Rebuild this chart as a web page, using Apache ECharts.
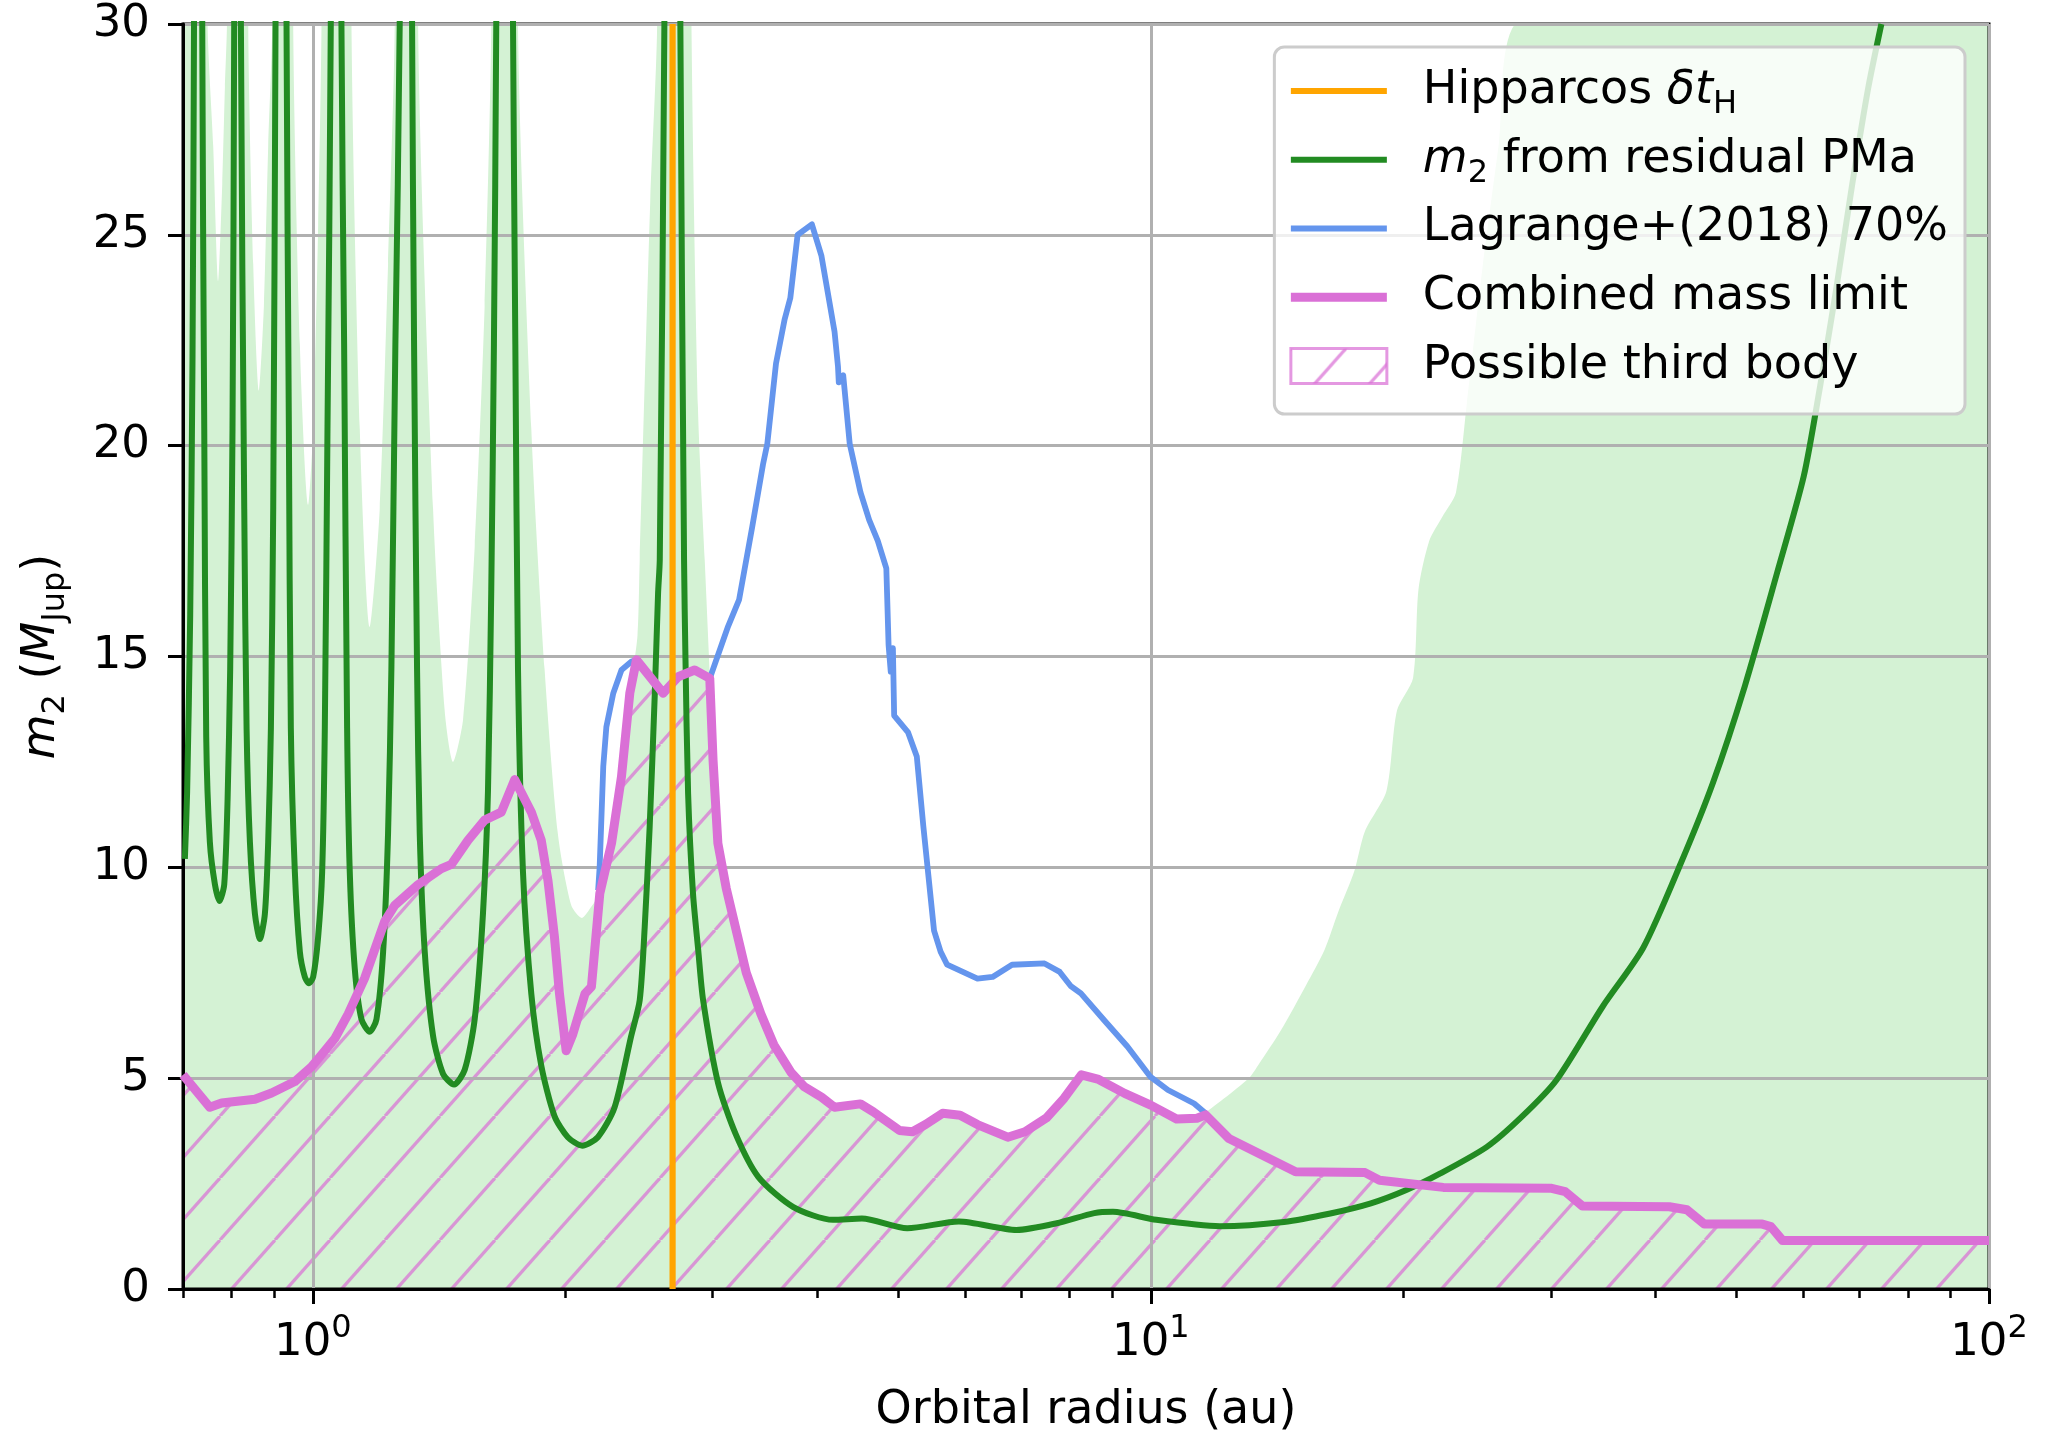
<!DOCTYPE html>
<html><head><meta charset="utf-8">
<script src="https://cdn.jsdelivr.net/npm/echarts@6/dist/echarts.min.js"></script>
<style>html,body{margin:0;padding:0;background:#fff}#c{width:2050px;height:1441px}</style>
</head><body><div id="c"></div>
<script>
// ---------------- data (orbital radius in au, mass in M_Jup) ----------------
const hipparcosAu = 2.687;
const xMin = 0.7, xMax = 100;
const xMajorTicks = [1, 10, 100];
const xMinorTicks = [0.7, 0.8, 0.9, 2, 3, 4, 5, 6, 7, 8, 9, 20, 30, 40, 50, 60, 70, 80, 90];

// m2 from residual PMa (green curve)
const pmaCurve = [
  [0.7036,10.2],[0.708,11.8],[0.714,16.0],[0.7185,22.0],[0.7215,30],[0.7345,80],
  [0.7380,30],[0.7421,20.4],[0.7461,13.1],[0.7536,10.6],[0.7641,9.6],[0.7740,9.2],[0.7840,9.6],[0.7912,11.6],[0.7969,14.7],[0.8020,20.4],[0.8057,30],[0.814,80],
  [0.8207,30],[0.8283,18.5],[0.8336,13.3],[0.8413,10.6],[0.8529,8.9],[0.8647,8.3],[0.8766,8.9],[0.8846,10.6],[0.8912,13.3],[0.8969,18.5],[0.9026,30],[0.919,80],
  [0.9303,30],[0.9363,20.4],[0.9414,13.3],[0.9518,9.9],[0.9650,8.0],[0.9783,7.4],[0.9891,7.25],[1.0009,7.4],[1.0147,8.35],[1.0260,9.9],[1.0335,13.3],[1.0411,20.4],[1.0506,30],[1.067,80],
  [1.0818,30],[1.0898,22.4],[1.0988,13.3],[1.1068,9.9],[1.1221,7.6],[1.1429,6.4],[1.1693,6.1],[1.1911,6.4],[1.2131,8.0],[1.2296,10.8],[1.2409,14.7],[1.2546,22.4],[1.2696,30],[1.292,80],
  [1.3135,30],[1.3207,22.4],[1.3316,14.7],[1.3414,10.8],[1.3600,8.0],[1.3915,6.0],[1.4303,5.1],[1.4740,4.85],[1.5179,5.2],[1.5601,6.4],[1.5959,8.9],[1.6180,11.8],[1.6328,16.6],[1.6447,22.4],[1.6553,30],[1.693,80],
  [1.7333,30],[1.7444,22.4],[1.7572,14.7],[1.7813,9.9],[1.8226,7.0],[1.8731,5.3],[1.9425,4.1],[2.0150,3.6],[2.0963,3.4],[2.188,3.6],[2.2906,4.3],[2.3981,6.0],[2.455,6.85],[2.489,8.59],[2.523,10.96],[2.559,14.13],[2.582,16.5],[2.594,17.29],[2.6271,30],[2.688,80],
  [2.745,30],[2.773,17.29],[2.784,14.92],[2.804,11.75],[2.842,9.38],[2.883,8.04],[2.922,6.85],[3.045,4.88],[3.193,3.69],[3.40,2.66],[3.74,1.95],[4.175,1.64],[4.52,1.67],[5.12,1.44],[5.90,1.6],[6.91,1.4],[7.72,1.56],[8.56,1.8],[9.01,1.83],[10.15,1.64],[12.09,1.49],[14.41,1.59],[16.37,1.79],[18.30,2.03],[20.14,2.34],[22.15,2.74],[25.17,3.37],[27.69,4.08],[30.46,4.95],[34.6,6.7],[38.69,8.1],[42.87,10.09],[46.83,12.0],[51.13,14.3],[55.86,16.98],[60.12,19.28],[62.84,21.38],[65.68,23.68],[68.64,26.17],[71.74,28.47],[74.4,30]
];

// upper edge of the PMa uncertainty band (light green fill)
const pmaUpper = [
  [0.7,80],[0.7489,30],[0.7606,27.1],[0.7712,23.9],[0.7797,26.2],[0.7854,28.5],[0.7898,30],[0.814,80],
  [0.8374,30],[0.8490,24.3],[0.8623,21.3],[0.8742,23.3],[0.8846,27.1],[0.8944,30],[0.919,80],
  [0.9475,30],[0.9650,22.4],[0.9873,18.6],[1.0009,20.4],[1.0147,25.2],[1.0241,30],[1.067,80],
  [1.1120,30],[1.1377,20.4],[1.1693,15.7],[1.2018,18.5],[1.2296,24.3],[1.2523,30],[1.292,80],
  [1.3354,30],[1.3915,18.5],[1.4368,13.7],[1.4700,12.5],[1.5109,13.5],[1.5601,17.6],[1.6032,23.3],[1.6328,30],[1.693,80],
  [1.7572,30],[1.8226,20.4],[1.8904,14.7],[1.9604,10.8],[2.0340,9.1],[2.0944,8.8],[2.150,9.07],[2.200,9.4],[2.272,10.5],[2.335,12.1],[2.389,14.1],[2.44,15.5],[2.455,17.29],[2.527,25.8],[2.5754,30],[2.688,80],
  [2.830,30],[2.881,20.9],[2.935,17.29],[2.976,14.6],[3.003,12.6],[3.043,10.6],[3.114,9.6],[3.29,7.6],[3.424,6.6],[3.549,5.85],[3.722,5.2],[3.857,4.85],[4.045,4.6],[4.193,4.36],[4.502,4.44],[4.665,4.25],[5.011,3.8],[5.194,3.78],[5.383,3.95],[5.644,4.22],[5.920,4.17],[6.209,3.95],[6.748,3.65],[7.076,3.78],[7.509,4.1],[7.875,4.57],[8.26,5.12],[8.662,5.02],[9.304,4.69],[9.994,4.4],[10.73,4.08],[11.35,4.1],[11.59,4.17],
  [13.09,5.0],[13.42,5.3],[14.30,6.14],[15.32,7.21],[16.11,8.04],[16.73,8.94],[17.48,9.9],[18.0,10.85],[19.1,11.81],[19.66,13.72],[20.55,14.49],[20.86,16.6],[21.48,17.74],[22.28,18.32],[23.12,18.89],[23.82,21.0],[24.88,24.25],[26.0,27.13],[27.18,30],[100,40]
];

// Lagrange+(2018) 70% detection limit (blue)
const lagrange = [
  [2.190,9.46],[2.199,10.0],[2.221,12.39],[2.240,13.33],[2.283,14.13],[2.335,14.68],[2.400,14.88],[2.433,14.92],[2.618,14.13],[2.729,14.52],[2.855,14.68],[2.976,14.48],
  [2.989,14.48],[3.129,15.71],[3.226,16.35],[3.344,18.07],[3.445,19.56],[3.486,20.05],[3.570,21.95],[3.656,23.0],[3.713,23.5],[3.788,25.0],[3.940,25.25],[4.045,24.5],[4.193,22.7],[4.233,21.87],[4.242,21.5],[4.294,21.67],[4.371,20.05],[4.502,18.9],[4.611,18.24],[4.722,17.74],[4.834,17.09],[4.864,15.27],[4.893,14.64],[4.922,15.2],[4.939,13.6],[5.132,13.2],[5.256,12.63],[5.351,10.98],[5.511,8.5],[5.611,8.0],[5.713,7.69],[6.209,7.36],[6.473,7.4],[6.828,7.69],[7.465,7.72],[7.784,7.52],[8.018,7.19],[8.25,7.01],[8.79,6.38],[9.374,5.75],[9.99,5.03],[10.48,4.72],[11.26,4.40],[11.62,4.17]
];

// Combined mass limit (orchid)
const combined = [
  [0.7,5.08],[0.7536,4.31],[0.7783,4.41],[0.8529,4.5],[0.8928,4.65],[0.9518,4.92],[0.9963,5.27],[1.0335,5.65],[1.0622,5.94],[1.1018,6.52],[1.1534,7.38],[1.2184,8.72],[1.2523,9.1],[1.3354,9.59],[1.4237,9.97],[1.4633,10.07],[1.5314,10.64],[1.6032,11.12],[1.6785,11.31],[1.7412,12.08],[1.8226,11.31],[1.8731,10.64],[1.9081,9.68],[1.9425,8.34],[1.9693,7.0],[2.0057,5.65],[2.0427,6.04],[2.112,7.0],[2.150,7.17],[2.200,9.38],[2.272,10.57],[2.335,12.15],[2.389,14.13],[2.433,14.92],[2.618,14.13],[2.729,14.52],[2.855,14.68],[2.976,14.48],
  [3.003,12.54],[3.043,10.57],[3.114,9.5],[3.29,7.5],[3.424,6.53],[3.549,5.79],[3.722,5.13],[3.857,4.8],[4.045,4.55],[4.193,4.31],[4.502,4.39],[4.665,4.2],[5.011,3.76],[5.194,3.73],[5.383,3.9],[5.644,4.17],[5.920,4.12],[6.209,3.9],[6.748,3.6],[7.076,3.73],[7.509,4.06],[7.875,4.52],[8.26,5.08],[8.662,4.97],[9.304,4.64],[9.994,4.36],[10.73,4.03],[11.35,4.05],[11.62,4.13],[12.39,3.57],[14.88,2.78],[18.01,2.76],[18.74,2.58],[22.33,2.41],[29.99,2.39],[31.21,2.31],[32.72,1.97],[41.56,1.95],[43.60,1.88],[45.73,1.54],[53.63,1.54],[54.92,1.48],[56.71,1.15],[100,1.15]
];

const legendNames = ['Hipparcos δtH', 'm2 from residual PMa', 'Lagrange+(2018) 70%', 'Combined mass limit', 'Possible third body'];

// ---------------- build ----------------
const FONT = 'DejaVu Sans';
const L = v => Math.log10(v);
const toXY = arr => arr.map(p => [L(p[0]), p[1]]);

function hatchCanvas(w, h, color, lw) {
  const c = document.createElement('canvas');
  c.width = w; c.height = h;
  const g = c.getContext('2d');
  g.strokeStyle = color; g.lineWidth = lw;
  for (let k = -1; k <= 1; k++) {
    g.beginPath(); g.moveTo(k * w, h); g.lineTo(k * w + w, 0); g.stroke();
  }
  return c;
}
const HATCH_COLOR = 'rgba(218,112,214,0.72)';
const hatchPattern = { image: hatchCanvas(55, 62, HATCH_COLOR, 3.2), repeat: 'repeat' };
const legendHatch = { image: hatchCanvas(55, 62, HATCH_COLOR, 3.2), repeat: 'repeat' };

const GREEN = '#228b22', BLUE = '#6495ed', PINK = '#da70d6', ORANGE = '#ffa500';
const W_GREEN = 6, W_BLUE = 5.8, W_PINK = 9, W_ORANGE = 6.2;
const barIcon = h => 'path://M0,0H96V' + h + 'H0Z';

const legendRich = {
  g: { width: 31 },
  t: { fontSize: 46, fontFamily: FONT, color: '#000', lineHeight: 60 },
  i: { fontSize: 46, fontFamily: FONT, fontStyle: 'italic', color: '#000', lineHeight: 60 },
  s: { fontSize: 32, fontFamily: FONT, color: '#000', lineHeight: 30, verticalAlign: 'bottom' }
};
const legendLabels = {
  'Hipparcos δtH': '{g|}{t|Hipparcos }{i|δt}{s|H}',
  'm2 from residual PMa': '{g|}{i|m}{s|2}{t| from residual PMa}',
  'Lagrange+(2018) 70%': '{g|}{t|Lagrange+(2018) 70%}',
  'Combined mass limit': '{g|}{t|Combined mass limit}',
  'Possible third body': '{g|}{t|Possible third body}'
};

const xL = L(xMin), xR = L(xMax);

const option = {
  animation: false,
  backgroundColor: '#fff',
  textStyle: { fontFamily: FONT },
  grid: { left: 183, right: 61, top: 24, bottom: 152, show: true, borderColor: '#000', borderWidth: 3, backgroundColor: 'transparent' },
  legend: {
    orient: 'vertical', right: 85, top: 47,
    itemWidth: 96, itemHeight: 35, itemGap: 8.75,
    padding: [14, 17, 18, 15],
    symbolKeepAspect: true,
    backgroundColor: 'rgba(255,255,255,0.8)', borderColor: '#cccccc', borderWidth: 3, borderRadius: 10,
    textStyle: { fontSize: 46, fontFamily: FONT, color: '#000', lineHeight: 60, rich: legendRich },
    formatter: n => legendLabels[n],
    data: [
      { name: legendNames[0], icon: barIcon(W_ORANGE), itemStyle: { color: ORANGE } },
      { name: legendNames[1], icon: barIcon(W_GREEN), itemStyle: { color: GREEN } },
      { name: legendNames[2], icon: barIcon(W_BLUE), itemStyle: { color: BLUE } },
      { name: legendNames[3], icon: barIcon(W_PINK), itemStyle: { color: PINK } },
      { name: legendNames[4], icon: 'rect', itemStyle: { color: legendHatch, borderColor: HATCH_COLOR, borderWidth: 3 } }
    ],
    selectedMode: false
  },
  xAxis: [
    {
      type: 'value', min: xL, max: xR, position: 'bottom',
      name: 'Orbital radius (au)', nameLocation: 'middle', nameGap: 99,
      nameTextStyle: { fontSize: 46, fontFamily: FONT, color: '#000' },
      axisLine: { show: true, onZero: false, lineStyle: { color: '#000', width: 3 } },
      axisTick: { show: true, customValues: xMajorTicks.map(L), length: 15, lineStyle: { color: '#000', width: 3 } },
      axisLabel: {
        customValues: xMajorTicks.map(L), margin: 24, color: '#000',
        formatter: v => '{b|10}{p|' + Math.round(v) + '}',
        rich: {
          b: { fontSize: 45, fontFamily: FONT, color: '#000', lineHeight: 60 },
          p: { fontSize: 32, fontFamily: FONT, color: '#000', lineHeight: 32, verticalAlign: 'top' }
        }
      },
      splitLine: { show: true, lineStyle: { color: '#b0b0b0', width: 3 } }
    },
    {
      type: 'value', min: xL, max: xR, position: 'bottom',
      axisLine: { show: false, onZero: false },
      axisTick: { show: true, customValues: xMinorTicks.map(L), length: 9, lineStyle: { color: '#000', width: 2.5 } },
      axisLabel: { show: false },
      splitLine: { show: false }
    }
  ],
  yAxis: {
    type: 'value', min: 0, max: 30, interval: 5,
    name: '{i|m}{s|2}{t| (}{i|M}{s|Jup}{t|)}', nameLocation: 'middle', nameRotate: 90, nameGap: 111,
    nameTextStyle: {
      rich: {
        t: { fontSize: 46, fontFamily: FONT, color: '#000', lineHeight: 60 },
        i: { fontSize: 46, fontFamily: FONT, fontStyle: 'italic', color: '#000', lineHeight: 60 },
        s: { fontSize: 32, fontFamily: FONT, color: '#000', lineHeight: 30, verticalAlign: 'bottom' }
      }
    },
    axisLine: { show: true, onZero: false, lineStyle: { color: '#000', width: 3 } },
    axisTick: { show: true, length: 15, lineStyle: { color: '#000', width: 3 } },
    axisLabel: { fontSize: 45, fontFamily: FONT, color: '#000', margin: 33 },
    splitLine: { show: true, lineStyle: { color: '#b0b0b0', width: 3 } }
  },
  series: [
    {
      name: 'pmaUpperBand', type: 'line', data: toXY(pmaUpper), symbol: 'none', silent: true, z: -2,
      smooth: 0.25,
      lineStyle: { width: 0 }, areaStyle: { color: '#d4f2d4', opacity: 1 }, itemStyle: { color: '#d4f2d4' }
    },
    {
      name: legendNames[4], type: 'line', data: toXY(combined), symbol: 'none', silent: true, z: -1,
      lineStyle: { width: 0 }, areaStyle: { color: hatchPattern, opacity: 1 }, itemStyle: { color: HATCH_COLOR }
    },
    {
      name: legendNames[1], type: 'line', data: toXY(pmaCurve), symbol: 'none', z: 3,
      smooth: 0.25,
      lineStyle: { color: GREEN, width: W_GREEN, join: 'round' }, itemStyle: { color: GREEN }
    },
    {
      name: legendNames[2], type: 'line', data: toXY(lagrange), symbol: 'none', z: 4,
      lineStyle: { color: BLUE, width: W_BLUE, join: 'round' }, itemStyle: { color: BLUE }
    },
    {
      name: legendNames[3], type: 'line', data: toXY(combined), symbol: 'none', z: 5,
      lineStyle: { color: PINK, width: W_PINK, join: 'round' }, itemStyle: { color: PINK }
    },
    {
      name: legendNames[0], type: 'line', data: [[L(hipparcosAu), 0], [L(hipparcosAu), 30]], symbol: 'none', z: 6,
      lineStyle: { color: ORANGE, width: W_ORANGE }, itemStyle: { color: ORANGE }
    }
  ]
};

const chart = echarts.init(document.getElementById('c'), null, { renderer: 'canvas', width: 2050, height: 1441 });
chart.setOption(option);
</script>
</body></html>
